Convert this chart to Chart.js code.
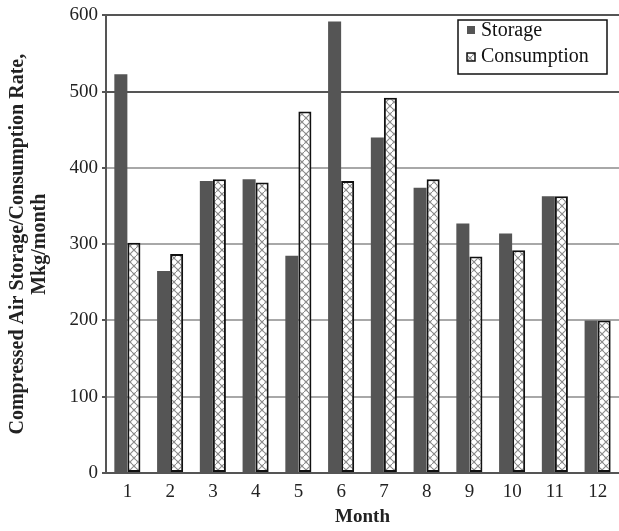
<!DOCTYPE html>
<html>
<head>
<meta charset="utf-8">
<script src="https://cdn.jsdelivr.net/npm/chart.js@4/dist/chart.umd.min.js"></script>
<style>
  html, body { margin: 0; padding: 0; background: #fff; }
  #wrap { width: 619px; height: 531px; position: relative; }
</style>
</head>
<body>
<div id="wrap"><canvas id="c" width="619" height="531"></canvas></div>
<script>
// Monthly compressed air storage vs. consumption (Mkg/month)
const months = ['1', '2', '3', '4', '5', '6', '7', '8', '9', '10', '11', '12'];
const storage = [523, 265, 383, 385, 285, 592, 440, 374, 327, 314, 363, 200];
const consumption = [302, 287, 385, 381, 474, 383, 492, 385, 284, 292, 363, 200];
const seriesNames = ['Storage', 'Consumption'];
const yTitle = ['Compressed Air Storage/Consumption Rate,', 'Mkg/month'];
const xTitle = 'Month';

const SERIF = '"Liberation Serif", "Times New Roman", serif';

// hatched fill used for the consumption bars
function makeHatch() {
  const s = 8;
  const c = document.createElement('canvas');
  c.width = s; c.height = s;
  const g = c.getContext('2d');
  g.fillStyle = '#ffffff';
  g.fillRect(0, 0, s, s);
  g.strokeStyle = '#8a8a8a';
  g.lineWidth = 1.1;
  g.beginPath();
  g.moveTo(0, s); g.lineTo(s, 0);
  g.moveTo(0, s / 2); g.lineTo(s / 2, s);
  g.moveTo(s / 2, 0); g.lineTo(s, s / 2);
  g.stroke();
  return g.createPattern(c, 'repeat');
}
const hatch = makeHatch();

// framed legend in the upper-right corner of the plot
const boxedLegend = {
  id: 'boxedLegend',
  afterDraw(chart) {
    const ctx = chart.ctx;
    const x = 458, y = 20, w = 149, h = 54;
    ctx.save();
    ctx.fillStyle = '#fff';
    ctx.fillRect(x, y, w, h);
    ctx.strokeStyle = '#111';
    ctx.lineWidth = 1.5;
    ctx.strokeRect(x, y, w, h);
    ctx.font = '20px ' + SERIF;
    ctx.textBaseline = 'middle';
    // Storage
    ctx.fillStyle = '#555';
    ctx.fillRect(467, 26, 8, 8);
    ctx.fillStyle = '#111';
    ctx.fillText(chart.data.datasets[0].label, 481, 31);
    // Consumption
    ctx.fillStyle = hatch;
    ctx.fillRect(467, 53, 8, 8);
    ctx.strokeStyle = '#111';
    ctx.lineWidth = 1.5;
    ctx.strokeRect(467, 53, 8, 8);
    ctx.fillStyle = '#111';
    ctx.fillText(chart.data.datasets[1].label, 481, 57);
    ctx.restore();
  }
};

new Chart(document.getElementById('c'), {
  type: 'bar',
  data: {
    labels: months,
    datasets: [
      {
        label: seriesNames[0],
        data: storage,
        backgroundColor: '#555555',
        borderWidth: 0,
        categoryPercentage: 0.61,
        barPercentage: 1.0
      },
      {
        label: seriesNames[1],
        data: consumption,
        backgroundColor: hatch,
        borderColor: '#111111',
        borderWidth: 2,
        borderSkipped: false,
        categoryPercentage: 0.61,
        barPercentage: 1.0
      }
    ]
  },
  options: {
    responsive: false,
    animation: false,
    layout: { padding: { top: 13, right: 0, left: 0, bottom: 0 } },
    plugins: {
      legend: { display: false },
      tooltip: { enabled: false }
    },
    scales: {
      x: {
        grid: { display: false, drawTicks: false },
        border: { display: true, color: '#555', width: 2 },
        ticks: {
          color: '#222',
          font: { family: SERIF, size: 19 },
          padding: 8,
          maxRotation: 0
        },
        title: {
          display: true,
          text: xTitle,
          color: '#222',
          font: { family: SERIF, size: 19, weight: 'bold' },
          padding: { top: 0, bottom: 3 }
        },
        afterFit(scale) { scale.height = 58; }
      },
      y: {
        min: 0,
        max: 600,
        ticks: {
          stepSize: 100,
          color: '#222',
          font: { family: SERIF, size: 19 },
          padding: 4
        },
        grid: {
          color: (c) => (c.tick && c.tick.value >= 500 ? '#555' : '#a8a8a8'),
          lineWidth: 2,
          tickLength: 4,
          tickColor: '#555'
        },
        border: { display: true, color: '#555', width: 2 },
        title: {
          display: true,
          text: yTitle,
          color: '#222',
          font: { family: SERIF, size: 20, weight: 'bold', lineHeight: 1.1 },
          padding: { top: 7, bottom: 0 }
        },
        afterFit(scale) { scale.width = 106; }
      }
    }
  },
  plugins: [boxedLegend]
});
</script>
</body>
</html>
